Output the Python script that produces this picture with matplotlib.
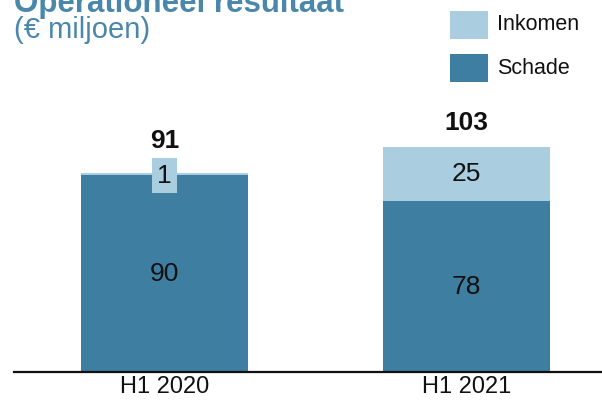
import matplotlib.pyplot as plt
from matplotlib.patches import Rectangle

# data
periods = ['H1 2020', 'H1 2021']
schade = [90, 78]
inkomen = [1, 25]
legend_labels = ['Inkomen', 'Schade']

dark = '#3e7ea1'
light = '#aacde0'
title_color = '#4a87ab'

plt.rcParams['font.family'] = ['Liberation Sans', 'DejaVu Sans']

W, H = 602, 405
fig = plt.figure(figsize=(W / 100, H / 100), dpi=100)
ax = fig.add_axes([14 / W, 33 / H, 588 / W, 372 / H])

x = list(range(len(periods)))
totals = [s + i for s, i in zip(schade, inkomen)]
width = 0.553

ax.bar(x, schade, width=width, color=dark)
ax.bar(x, inkomen, width=width, bottom=schade, color=light)

for xi, s, i, t in zip(x, schade, inkomen, totals):
    ax.text(xi, s / 2, str(s), ha='center', va='center', fontsize=19, color='#111111')
    if i < 5:
        # small segment: label sits in a light box on top of the bar
        ax.text(xi, s + i / 2 - 0.8, str(i), ha='center', va='center', fontsize=19,
                color='#111111',
                bbox=dict(boxstyle='square,pad=0.2', facecolor=light, edgecolor='none'))
        top = s + 5
    else:
        ax.text(xi, s + i / 2, str(i), ha='center', va='center', fontsize=19, color='#111111')
        top = t
    ax.text(xi, top + 7.5, str(t), ha='center', va='baseline',
            fontsize=19, fontweight='bold', color='#111111')

ax.set_xlim(-0.498, 1.449)
ax.set_ylim(0, 170)
ax.set_xticks(x)
ax.set_xticklabels(periods, fontsize=17, color='#111111')
ax.tick_params(axis='x', length=0, pad=3)
ax.set_yticks([])
for side in ['top', 'right', 'left']:
    ax.spines[side].set_visible(False)
ax.spines['bottom'].set_linewidth(1.6)
ax.spines['bottom'].set_color('#111111')
ax.patch.set_visible(False)

fig.text(14 / W, 1 - 12 / H, 'Operationeel resultaat', fontsize=22.5, fontweight='bold',
         color=title_color, ha='left', va='baseline')
fig.text(14 / W, 1 - 38 / H, '(€ miljoen)', fontsize=21, color=title_color,
         ha='left', va='baseline')

# legend drawn by hand
for k, (lab, col) in enumerate(zip(legend_labels, [light, dark])):
    y_top = 11 + k * 43
    fig.patches.append(Rectangle((450 / W, 1 - (y_top + 28) / H), 38 / W, 28 / H,
                                 transform=fig.transFigure, facecolor=col, edgecolor='none'))
    fig.text(497 / W, 1 - (y_top + 14) / H, lab, fontsize=15.5, color='#111111',
             ha='left', va='center')

fig.savefig('out.png', dpi=100)
